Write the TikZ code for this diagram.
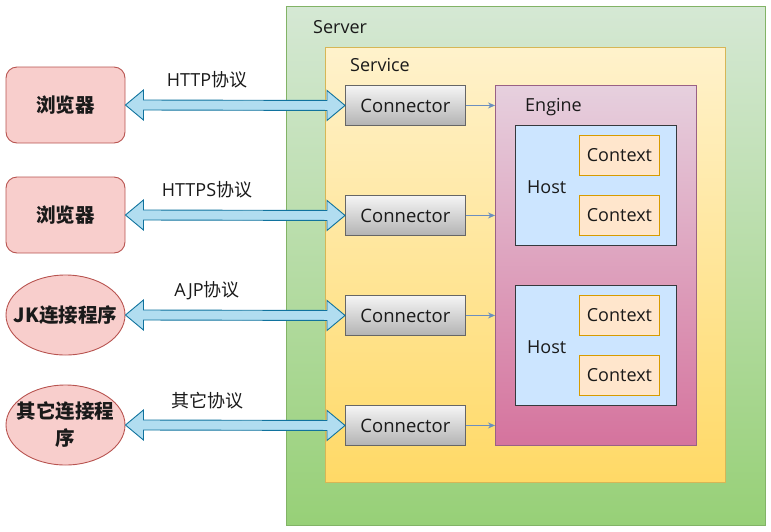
\documentclass[tikz,border=0pt]{standalone}
\usepackage{fontspec}
\setmainfont{Open Sans}
\newfontfamily\cjk{Noto Sans CJK SC}
\usetikzlibrary{calc,arrows.meta,shapes.geometric}
\definecolor{srvTop}{HTML}{D5E8D4}
\definecolor{srvBot}{HTML}{97D077}
\definecolor{srvLine}{HTML}{82B366}
\definecolor{svcTop}{HTML}{FFF2CC}
\definecolor{svcBot}{HTML}{FFD966}
\definecolor{svcLine}{HTML}{D6B656}
\definecolor{engTop}{HTML}{E6D0DE}
\definecolor{engBot}{HTML}{D5739D}
\definecolor{engLine}{HTML}{996185}
\definecolor{hostFill}{HTML}{CCE5FF}
\definecolor{hostLine}{HTML}{36393D}
\definecolor{ctxFill}{HTML}{FFE6CC}
\definecolor{ctxLine}{HTML}{D79B00}
\definecolor{conTop}{HTML}{F5F5F5}
\definecolor{conBot}{HTML}{B3B3B3}
\definecolor{conLine}{HTML}{666666}
\definecolor{cliFill}{HTML}{F8CECC}
\definecolor{cliLine}{HTML}{B85450}
\definecolor{arrFill}{HTML}{B1DDF0}
\definecolor{arrLine}{HTML}{10739E}
\definecolor{smallArr}{HTML}{6C8EBF}
\definecolor{txt}{HTML}{1A1A1A}
\tikzset{
  box/.style={draw, anchor=north west, inner sep=0pt, line width=0.9pt},
  serverbox/.style={box, top color=srvTop, bottom color=srvBot, draw=srvLine, minimum width=479pt, minimum height=519pt},
  servicebox/.style={box, top color=svcTop, bottom color=svcBot, draw=svcLine, minimum width=400pt, minimum height=435pt},
  enginebox/.style={box, top color=engTop, bottom color=engBot, draw=engLine, minimum width=201pt, minimum height=360pt},
  hostbox/.style={box, fill=hostFill, draw=hostLine, minimum width=161pt, minimum height=120pt},
  ctxbox/.style={box, fill=ctxFill, draw=ctxLine, minimum width=80pt, minimum height=40pt, text=txt, font=\fontsize{18}{21}\selectfont},
  conbox/.style={box, top color=conTop, bottom color=conBot, draw=conLine, minimum width=120pt, minimum height=40pt, text=txt, font=\fontsize{18.5}{21}\selectfont},
  clirect/.style={draw=cliLine, fill=cliFill, line width=0.9pt, rounded corners=11pt, minimum width=119pt, minimum height=76pt, inner sep=0pt, text=txt, font=\fontsize{19.5}{23}\cjk\bfseries},
  cliell/.style={ellipse, draw=cliLine, fill=cliFill, line width=0.9pt, minimum width=119pt, minimum height=80pt, inner sep=0pt},
  clitext/.style={inner sep=0pt, text=txt, align=center, font=\fontsize{19.5}{27}\cjk\bfseries},
  lbl/.style={anchor=west, inner sep=0pt, text=txt, font=\fontsize{18}{21}\selectfont},
  proto/.style={inner sep=0pt, text=txt, font=\fontsize{18}{21}\selectfont},
  dblarr/.style={draw=arrLine, fill=arrFill, line width=0.9pt, line join=miter},
  smallarrow/.style={draw=smallArr, line width=0.9pt, -{Stealth[length=7pt,width=6pt]}}
}
\newcommand\dblconn[2]{%
  \draw[dblarr] (#1) -- ++(18,-15) -- ++(0,10) -- ($(#2)+(-18,-5)$) -- ++(0,-10) -- (#2)
     -- ++(-18,15) -- ++(0,-10) -- ($(#1)+(18,5)$) -- ++(0,10) -- cycle;}
\begin{document}
\begin{tikzpicture}[x=1pt,y=-1pt]
\useasboundingbox (0,0) rectangle (771,531);
% containers
\node[serverbox] (server) at (286,6) {};
\node[lbl] (serverlbl) at (313,27) {Server};
\node[servicebox] (service) at (325,47) {};
\node[lbl] (servicelbl) at (350,65) {Service};
\node[enginebox] (engine) at (495,85) {};
\node[lbl] (enginelbl) at (525,107) {Engine};
% hosts
\node[hostbox] (host1) at (515,125) {};
\node[lbl] (host1lbl) at (527,187) {Host};
\node[ctxbox] (ctx11) at (579,135) {Context};
\node[ctxbox] (ctx12) at (579,195) {Context};
\node[hostbox] (host2) at (515,285) {};
\node[lbl] (host2lbl) at (527,347) {Host};
\node[ctxbox] (ctx21) at (579,295) {Context};
\node[ctxbox] (ctx22) at (579,355) {Context};
% connectors
\node[conbox] (con1) at (345,85) {Connector};
\node[conbox] (con2) at (345,195) {Connector};
\node[conbox] (con3) at (345,295) {Connector};
\node[conbox] (con4) at (345,405) {Connector};
\coordinate (e1) at (engine.west |- con1.east);
\coordinate (e2) at (engine.west |- con2.east);
\coordinate (e3) at (engine.west |- con3.east);
\coordinate (e4) at (engine.west |- con4.east);
\draw[smallarrow] (con1.east) -- (e1);
\draw[smallarrow] (con2.east) -- (e2);
\draw[smallarrow] (con3.east) -- (e3);
\draw[smallarrow] (con4.east) -- (e4);
% clients
\node[clirect] (cli1) at (65.5,105) {浏览器};
\node[clirect] (cli2) at (65.5,215) {浏览器};
\node[cliell] (cli3) at (65.5,315) {};
\node[clitext] (cli3t) at (cli3.center) {JK连接程序};
\node[cliell] (cli4) at (65.5,425) {};
\node[clitext] (cli4t) at (cli4.center) {其它连接程\\序};
% double arrows
\dblconn{cli1.east}{con1.west}
\dblconn{cli2.east}{con2.west}
\dblconn{cli3.east}{con3.west}
\dblconn{cli4.east}{con4.west}
\node[proto] (p1) at (207,80) {HTTP{\cjk 协议}};
\node[proto] (p2) at (207,190) {HTTPS{\cjk 协议}};
\node[proto] (p3) at (207,291) {AJP{\cjk 协议}};
\node[proto] (p4) at (207,401) {{\cjk 其它协议}};
\end{tikzpicture}
\end{document}
